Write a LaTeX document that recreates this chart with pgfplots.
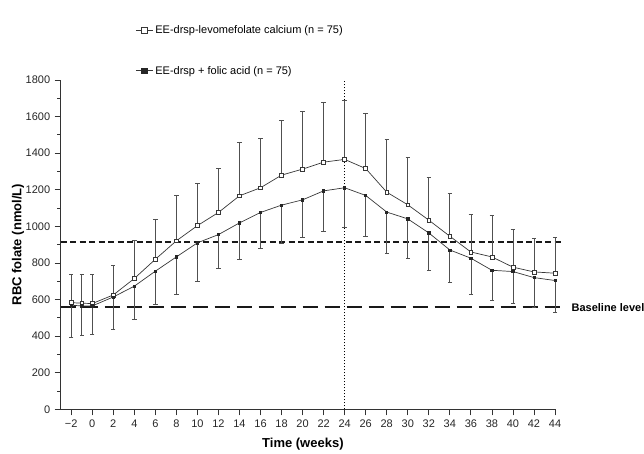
\documentclass[border=0pt]{standalone}
\usepackage{fontspec}
\setmainfont{Liberation Sans}
\usepackage{pgfplots}
\usepackage{pgfplotstable}
\pgfplotsset{compat=1.18}

\definecolor{lineg}{RGB}{55,55,55}
\definecolor{errg}{RGB}{80,80,80}

% week, mean, SD (upper bar)
\pgfplotstableread{
x y e
-2 583 152
-1 580 155
0 578 158
2 625 161
4 715 207
6 820 217
8 921 250
10 1004 230
12 1076 239
14 1167 294
16 1211 268
18 1280 299
20 1313 317
22 1351 328
24 1366 324
26 1316 301
28 1187 286
30 1118 261
32 1034 235
34 946 237
36 860 205
38 833 226
40 777 208
42 751 184
44 744 195
}\levo

% week, mean, SD (lower bar)
\pgfplotstableread{
x y e
-2 569 175
-1 565 159
0 565 153
2 614 175
4 673 183
6 755 183
8 833 204
10 910 208
12 955 187
14 1019 202
16 1076 195
18 1116 210
20 1145 204
22 1194 224
24 1211 219
26 1169 226
28 1078 223
30 1041 215
32 964 204
34 871 176
36 826 195
38 760 164
40 753 175
42 720 160
44 704 173
}\folic

\begin{document}
\begin{tikzpicture}
\begin{axis}[
    at={(0,0)}, anchor=south west,
    scale only axis,
    width=494.3pt, height=329.3pt,
    xmin=-3, xmax=44, ymin=0, ymax=1800,
    clip=false,
    axis x line*=bottom, axis y line*=left,
    axis line style={line width=0.8pt, black!80},
    tick align=outside,
    major tick length=6pt, minor tick length=3.5pt,
    tick style={line width=0.8pt, black!80},
    xtick={-2,0,...,44},
    xticklabels={−2,0,2,4,6,8,10,12,14,16,18,20,22,24,26,28,30,32,34,36,38,40,42,44},
    ytick={0,200,...,1800},
    minor y tick num=1,
    /pgf/number format/assume math mode=true,
    /pgf/number format/1000 sep={},
    tick label style={font=\fontsize{11}{13}\selectfont, text=black!85},
    yticklabel style={xshift=-1pt},
    xticklabel style={yshift=-1pt},
    xlabel={Time (weeks)},
    ylabel={RBC folate (nmol/L)},
    every axis x label/.style={at={(axis description cs:0.49,-0.107)}, anchor=center, font=\bfseries\fontsize{13}{15}\selectfont},
    every axis y label/.style={at={(axis description cs:-0.0864,0.5)}, rotate=90, anchor=center, font=\bfseries\fontsize{13}{15}\selectfont},
    legend style={at={(0.145,1.178)}, anchor=north west, draw=none, fill=none,
        font=\fontsize{11}{13}\selectfont, row sep=27pt},
    legend cell align=left,
]

% reference lines
\addplot[black!90, line width=2pt, dash pattern=on 6pt off 3.5pt, forget plot] coordinates {(-3,917) (44.8,917)};
\addplot[black!90, line width=2pt, dash pattern=on 15pt off 7pt, forget plot] coordinates {(-3,557) (44.8,557)};
\addplot[black, line width=1.2pt, dash pattern=on 1.1pt off 1.9pt, forget plot] coordinates {(24,0) (24,1800)};

\addplot[lineg, line width=0.7pt, mark=square*, mark size=1.9pt,
    mark options={fill=white, draw=lineg, line width=0.6pt, solid},
    legend image post style={mark size=2.8pt},
    error bars/.cd, y dir=plus, y explicit, error mark=-,
    error bar style={errg, line width=0.7pt},
    error mark options={rotate=90, errg, line width=0.7pt, mark size=2.2pt}]
    table[x=x, y=y, y error=e] {\levo};
\addlegendentry{EE-drsp-levomefolate calcium (n = 75)}

\addplot[lineg, line width=0.7pt, mark=square*, mark size=1.1pt,
    mark options={fill=black!85, draw=black!85, solid},
    legend image post style={mark size=2.8pt},
    error bars/.cd, y dir=minus, y explicit, error mark=-,
    error bar style={errg, line width=0.7pt},
    error mark options={rotate=90, errg, line width=0.7pt, mark size=2.2pt}]
    table[x=x, y=y, y error=e] {\folic};
\addlegendentry{EE-drsp + folic acid (n = 75)}

\node[anchor=west, inner sep=0pt, xshift=8pt, font=\bfseries\fontsize{11}{13}\selectfont]
    at (axis cs:44.8,557) {Baseline level};
\end{axis}
\pgfresetboundingbox
\useasboundingbox (-60.7pt,-43.7pt) rectangle (583.3pt,409.3pt);
\end{tikzpicture}
\end{document}
